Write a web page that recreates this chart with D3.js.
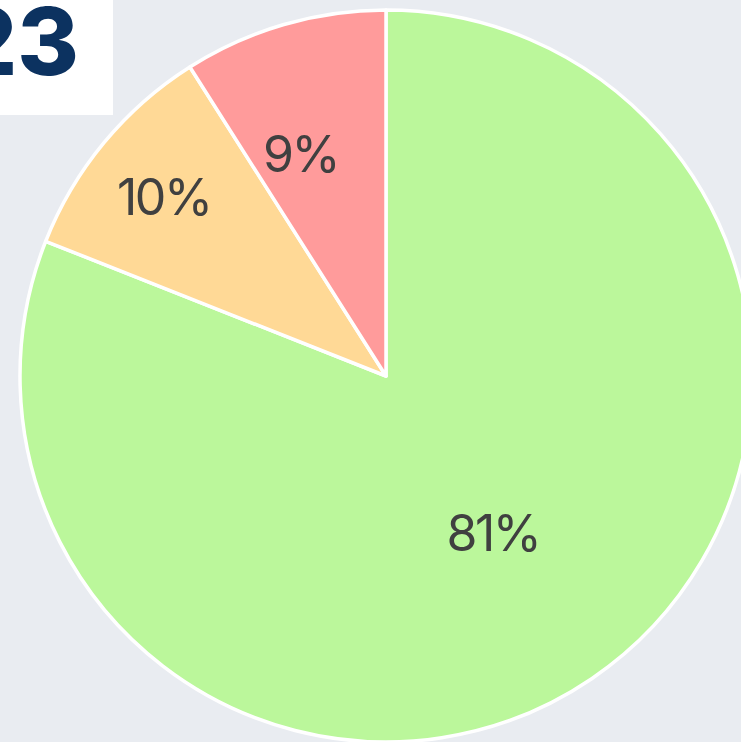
<!DOCTYPE html>
<html>
<head>
<meta charset="utf-8">
<script src="https://cdn.jsdelivr.net/npm/d3@7"></script>
<style>
  html, body { margin: 0; padding: 0; background: #e9ecf1; overflow: hidden; }
  svg { display: block; }
</style>
</head>
<body>
<div id="chart"></div>
<script>
// slice data, clockwise from 12 o'clock
const categories = ['Green', 'Orange', 'Red'];
const values = [81, 10, 9];
const labels = ['81%', '10%', '9%'];
const colors = ['#bbf79b', '#ffd996', '#ff9b9b'];
const yearText = '2023';

const width = 741;
const height = 742;
const cx = 386;
const cy = 376;
const radius = 366;

// label placement per slice: fraction of radius, fraction along the slice angle
const labelPlace = [
  { r: 0.52, t: 0.5 },
  { r: 0.78, t: 0.48 },
  { r: 0.65, t: 0.35 }
];

const svg = d3.select('#chart').append('svg')
  .attr('width', width)
  .attr('height', height);

svg.append('rect')
  .attr('width', width)
  .attr('height', height)
  .attr('fill', '#e9ecf1');

const g = svg.append('g')
  .attr('transform', `translate(${cx}, ${cy})`);

const pie = d3.pie().sort(null).value(d => d);
const arcs = pie(values);

const arc = d3.arc()
  .innerRadius(0)
  .outerRadius(radius);

g.selectAll('path.slice')
  .data(arcs)
  .enter().append('path')
  .attr('class', 'slice')
  .attr('d', arc)
  .attr('fill', (d, i) => colors[i])
  .attr('stroke', '#ffffff')
  .attr('stroke-width', 3.5)
  .attr('stroke-linejoin', 'round');

g.selectAll('text.label')
  .data(arcs)
  .enter().append('text')
  .attr('class', 'label')
  .each(function (d, i) {
    const p = labelPlace[i];
    const a = d.startAngle + (d.endAngle - d.startAngle) * p.t;
    const r = radius * p.r;
    d3.select(this)
      .attr('x', Math.sin(a) * r)
      .attr('y', -Math.cos(a) * r);
  })
  .attr('text-anchor', 'middle')
  .attr('dominant-baseline', 'central')
  .attr('font-family', 'Inter, "Noto Sans", sans-serif')
  .attr('font-size', 50)
  .attr('font-weight', 400)
  .attr('letter-spacing', -2.5)
  .attr('fill', '#404040')
  .text((d, i) => labels[i]);

// year badge in the top-left corner
svg.append('rect')
  .attr('x', 0)
  .attr('y', 0)
  .attr('width', 113)
  .attr('height', 115)
  .attr('fill', '#ffffff');

svg.append('text')
  .attr('x', 79)
  .attr('y', 75)
  .attr('text-anchor', 'end')
  .attr('font-family', 'Inter, "Noto Sans", sans-serif')
  .attr('font-size', 94)
  .attr('font-weight', 800)
  .attr('fill', '#0c3260')
  .text(yearText);
</script>
</body>
</html>
